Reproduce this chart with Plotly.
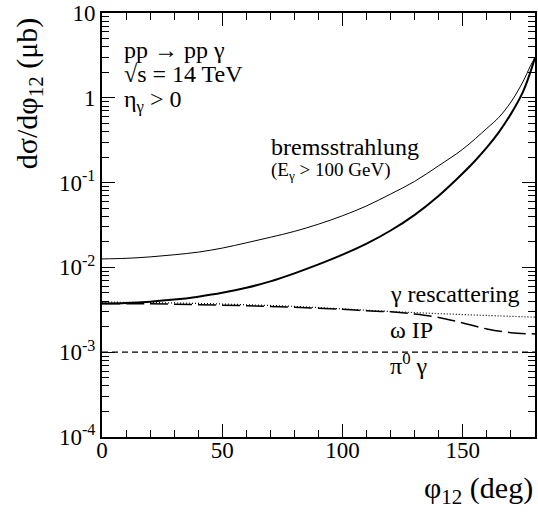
import plotly.graph_objects as go

# ---- data ----
phi_thin = [0, 10, 20, 30, 40, 50, 60, 70, 80, 90, 100, 110, 120, 130, 140, 150, 160, 165, 170, 175, 178, 180]
brems_thin = [0.01259, 0.01279, 0.0133, 0.01409, 0.01514, 0.0169, 0.0195, 0.02265, 0.0266, 0.03236, 0.0407,
              0.0531, 0.0733, 0.1035, 0.1585, 0.248, 0.4365, 0.589, 0.891, 1.549, 2.344, 2.979]

phi_thick = [0, 10, 20, 30, 40, 50, 60, 70, 80, 90, 100, 110, 120, 130, 140, 150, 155, 160, 165, 170, 175, 178, 180]
brems_thick = [0.00374, 0.0038, 0.00394, 0.00417, 0.00452, 0.00501, 0.00575, 0.00684, 0.00851, 0.01084, 0.01413,
               0.01905, 0.02723, 0.04169, 0.07, 0.1288, 0.18, 0.26, 0.394, 0.646, 1.175, 1.972, 2.979]

phi_resc = [0, 20, 40, 60, 80, 100, 120, 140, 160, 180]
gamma_resc = [0.0039, 0.00385, 0.00376, 0.00363, 0.00347, 0.00324, 0.00302, 0.00285, 0.00271, 0.00259]

phi_omega = [0, 20, 40, 60, 80, 100, 110, 120, 130, 140, 150, 160, 170, 180]
omega_ip = [0.00374, 0.00372, 0.00363, 0.00353, 0.00339, 0.0032, 0.00308, 0.00299, 0.00282, 0.00257,
            0.00221, 0.00188, 0.0017, 0.00164]

phi_pi0 = [0, 180]
pi0_gamma = [0.001, 0.001]

y_tickvals = [1e-4, 1e-3, 1e-2, 1e-1, 1, 10]
y_ticktext = ["10<sup>-4</sup>", "10<sup>-3</sup>", "10<sup>-2</sup>", "10<sup>-1</sup>", "1", "10"]
x_tickvals = [0, 50, 100, 150]
x_ticktext = ["0", "50", "100", "150"]

FONT = "Liberation Serif, Times New Roman, Times, DejaVu Serif, serif"
W, H = 538, 516
L, R, T, B = 102, 1, 12, 79

fig = go.Figure()
fig.add_trace(go.Scatter(x=phi_thin, y=brems_thin, mode="lines", line=dict(color="black", width=1, shape="spline")))
fig.add_trace(go.Scatter(x=phi_thick, y=brems_thick, mode="lines", line=dict(color="black", width=2, shape="spline")))
fig.add_trace(go.Scatter(x=phi_resc, y=gamma_resc, mode="lines", line=dict(color="black", width=1.2, dash="1px,2px", shape="spline")))
fig.add_trace(go.Scatter(x=phi_omega, y=omega_ip, mode="lines", line=dict(color="black", width=1.5, dash="18px,6px", shape="spline")))
fig.add_trace(go.Scatter(x=phi_pi0, y=pi0_gamma, mode="lines", line=dict(color="black", width=1.3, dash="6px,4px")))

minor_y = []
for e in range(-4, 1):
    for k in range(2, 10):
        minor_y.append(k * 10 ** e)

fig.update_xaxes(range=[0, 180], tickvals=x_tickvals, ticktext=x_ticktext,
                 ticks="inside", ticklen=13, tickwidth=1, tickcolor="black",
                 minor=dict(tickvals=[v for v in range(10, 180, 10) if v % 50], ticks="inside", ticklen=7, tickcolor="black"),
                 showline=True, linecolor="black", linewidth=2, mirror="allticks",
                 showgrid=False, zeroline=False, ticklabelstandoff=-9,
                 tickfont=dict(family=FONT, size=23, color="black"))
fig.update_yaxes(type="log", range=[-4, 1], tickvals=y_tickvals, ticktext=y_ticktext,
                 ticks="inside", ticklen=13, tickwidth=1, tickcolor="black",
                 minor=dict(tickvals=minor_y, ticks="inside", ticklen=7, tickcolor="black"),
                 showline=True, linecolor="black", linewidth=2, mirror="allticks",
                 showgrid=False, zeroline=False,
                 tickfont=dict(family=FONT, size=23, color="black"))

pw, ph = W - L - R, H - T - B


def px(x):
    return (x - L) / pw


def py(y):
    return (H - B - y) / ph


def ann(text, x, y, size=24, xanchor="left", **kw):
    fig.add_annotation(text=text, x=px(x), y=py(y), xref="paper", yref="paper",
                       xanchor=xanchor, yanchor="middle", showarrow=False,
                       font=dict(family=FONT, size=size, color="black"), **kw)


ann("pp → pp γ", 122, 49)
ann("√s = 14 TeV", 122, 73)
ann("η<sub>γ</sub> > 0", 122, 100)
ann("bremsstrahlung", 270, 146)
ann("(E<sub>γ</sub> > 100 GeV)", 270, 170, size=19)
ann("γ rescattering", 389, 294)
ann("ω IP", 389, 330)
ann("π<sup>0</sup> γ", 389, 364)
ann("dσ/dφ<sub>12</sub> (μb)", 28, 93, size=30, xanchor="center", textangle=-90)
ann("φ<sub>12</sub> (deg)", 537, 490, size=30, xanchor="right")

fig.update_layout(width=W, height=H, margin=dict(l=L, r=R, t=T, b=B),
                  paper_bgcolor="white", plot_bgcolor="white", showlegend=False,
                  font=dict(family=FONT, color="black"))

fig.write_html("out.html")
